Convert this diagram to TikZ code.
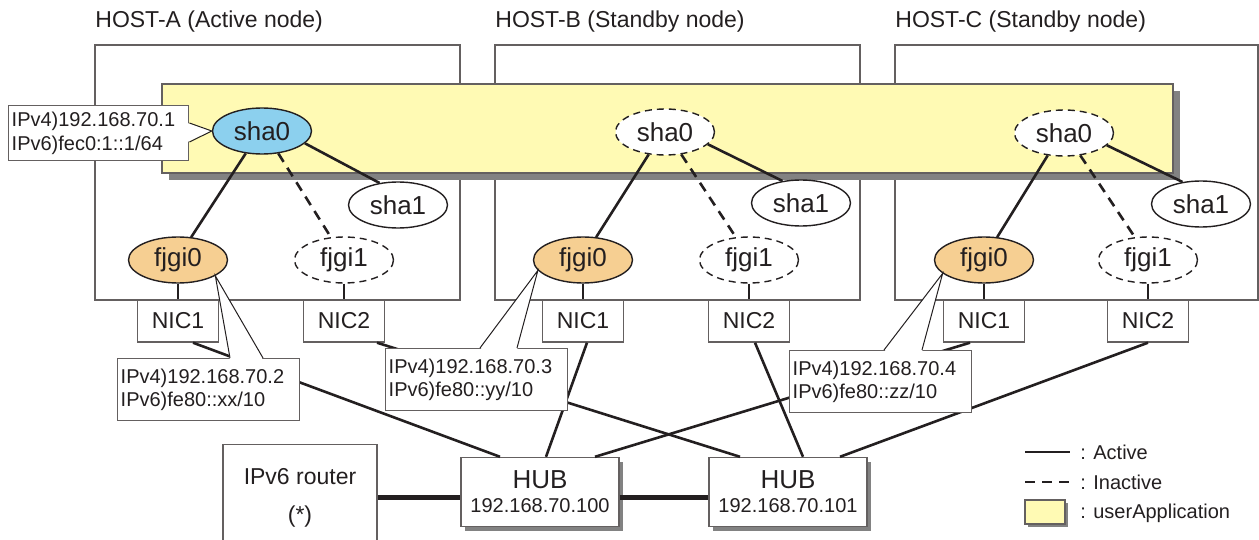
\documentclass[tikz,border=0pt]{standalone}
\usepackage{fontspec}
\setmainfont{Liberation Sans}
\usetikzlibrary{shapes.geometric,shadows}
\definecolor{ink}{RGB}{35,31,32}
\definecolor{frame}{RGB}{100,96,96}
\definecolor{shade}{RGB}{130,130,130}
\definecolor{appyellow}{RGB}{255,250,180}
\definecolor{shablue}{RGB}{140,208,238}
\definecolor{fjgiorange}{RGB}{246,207,146}
\begin{document}
\begin{tikzpicture}[x=0.5pt,y=-0.5pt,
  every node/.style={text=ink},
  hostlabel/.style={anchor=base west,inner sep=0pt,font=\fontsize{11.5}{14}\selectfont},
  hostbox/.style={draw=frame,line width=0.7pt},
  appbox/.style={draw=frame,line width=0.6pt,fill=appyellow,drop shadow={shadow xshift=3.5pt,shadow yshift=-3.5pt,fill=shade,opacity=1}},
  ifc/.style={ellipse,draw=ink,line width=0.7pt,fill=white,inner sep=0pt,minimum width=49.5pt,minimum height=23pt,font=\fontsize{13}{15}\selectfont},
  stby/.style={ifc,dash pattern=on 3.5pt off 2.5pt},
  nic/.style={draw=frame,line width=0.7pt,fill=white,minimum width=40.5pt,minimum height=21pt,inner sep=0pt,font=\fontsize{11.5}{14}\selectfont},
  ipbox/.style={draw=frame,line width=0.7pt,fill=white,anchor=north west,align=left,text width=88pt,inner xsep=1.5pt,inner ysep=0pt,minimum height=31pt,font=\fontsize{10}{11.5}\selectfont},
  pointer/.style={draw=ink,line width=0.5pt},
  hub/.style={draw=frame,line width=0.7pt,fill=white,align=center,minimum width=79pt,minimum height=34.5pt,inner sep=0pt,font=\fontsize{10}{12}\selectfont,drop shadow={shadow xshift=2pt,shadow yshift=-2pt,fill=shade,opacity=1}},
  act/.style={draw=ink,line width=1.3pt},
  inact/.style={act,dash pattern=on 5pt off 3.5pt},
  trunk/.style={draw=ink,line width=2.4pt},
  legtext/.style={anchor=west,inner sep=0pt,font=\fontsize{10}{12}\selectfont}]
\useasboundingbox (0,0) rectangle (1259,540);
\clip (0,0) rectangle (1259,540);

% hosts
\node[hostlabel] (labA) at (95,28) {HOST-A (Active node)};
\node[hostlabel] (labB) at (495,28) {HOST-B (Standby node)};
\node[hostlabel] (labC) at (895,28) {HOST-C (Standby node)};
\draw[hostbox] (95,45) rectangle (460,300);
\draw[hostbox] (495,45) rectangle (860,300);
\draw[hostbox] (895,45) rectangle (1258,300);

% userApplication
\draw[appbox] (162,84) rectangle (1173,173);

% interfaces
\node[ifc,fill=shablue] (shaA0) at (262,131) {sha0};
\node[stby] (shaB0) at (665,132) {sha0};
\node[stby] (shaC0) at (1064,133) {sha0};
\node[ifc] (shaA1) at (398,205) {sha1};
\node[ifc] (shaB1) at (801,203) {sha1};
\node[ifc] (shaC1) at (1201,204) {sha1};
\node[ifc,fill=fjgiorange] (fjgiA0) at (178,260) {fjgi0};
\node[ifc,fill=fjgiorange] (fjgiB0) at (583,260) {fjgi0};
\node[ifc,fill=fjgiorange] (fjgiC0) at (984,260) {fjgi0};
\node[stby] (fjgiA1) at (344,260) {fjgi1};
\node[stby] (fjgiB1) at (749,260) {fjgi1};
\node[stby] (fjgiC1) at (1148,260) {fjgi1};

% NICs
\node[nic] (nicA1) at (178,321) {NIC1};
\node[nic] (nicA2) at (344,321) {NIC2};
\node[nic] (nicB1) at (583,321) {NIC1};
\node[nic] (nicB2) at (749,321) {NIC2};
\node[nic] (nicC1) at (984,321) {NIC1};
\node[nic] (nicC2) at (1148,321) {NIC2};

% hubs and router
\node[hub] (hub1) at (540,492) {{\fontsize{13}{15}\selectfont HUB}\\192.168.70.100};
\node[hub] (hub2) at (788,492) {{\fontsize{13}{15}\selectfont HUB}\\192.168.70.101};
\node[draw=frame,line width=0.7pt,anchor=north,minimum width=77pt,minimum height=53pt,align=center,font=\fontsize{11.5}{19}\selectfont] (router) at (300,444) {IPv6 router\\(*)};

% links inside the hosts
\draw[act] (shaA0.-126) -- (fjgiA0.60);
\draw[inact] (shaA0.-54) -- (fjgiA1.120);
\draw[act] (shaA0.-16) -- (shaA1.130);
\draw[act] (shaB0.-126) -- (fjgiB0.60);
\draw[inact] (shaB0.-54) -- (fjgiB1.120);
\draw[act] (shaB0.-16) -- (shaB1.130);
\draw[act] (shaC0.-126) -- (fjgiC0.60);
\draw[inact] (shaC0.-54) -- (fjgiC1.120);
\draw[act] (shaC0.-16) -- (shaC1.130);
\draw[act] (fjgiA0) -- (nicA1);
\draw[act] (fjgiA1) -- (nicA2);
\draw[act] (fjgiB0) -- (nicB1);
\draw[act] (fjgiB1) -- (nicB2);
\draw[act] (fjgiC0) -- (nicC1);
\draw[act] (fjgiC1) -- (nicC2);

% network
\draw[act] ([xshift=7.5pt]nicA1.south) -- ([xshift=-20pt]hub1.north);
\draw[act] ([xshift=2pt]nicB1.south) -- ([xshift=3pt]hub1.north);
\draw[act] ([xshift=-7pt]nicC1.south) -- ([xshift=27.5pt]hub1.north);
\draw[act] ([xshift=16.5pt]nicA2.south) -- ([xshift=-24pt]hub2.north);
\draw[act] ([xshift=3pt]nicB2.south) -- ([xshift=7.5pt]hub2.north);
\draw[act] (nicC2.south) -- ([xshift=26pt]hub2.north);
\draw[trunk] (router.east) -- (router.east -| hub1.west);
\draw[trunk] (hub1.east |- router.east) -- (router.east -| hub2.west);

% address callouts
\node[ipbox,text width=87pt,minimum height=27.5pt,font=\fontsize{10}{12}\selectfont] (ipSha) at (8,105) {IPv4)192.168.70.1\\IPv6)fec0:1::1/64};
\fill[white] (shaA0.west) -- ([yshift=-9pt,xshift=-1pt]ipSha.north east) -- ([yshift=-18.5pt,xshift=-1pt]ipSha.north east) -- cycle;
\draw[pointer] ([yshift=-9pt]ipSha.north east) -- (shaA0.west) -- ([yshift=-18.5pt]ipSha.north east);

\node[ipbox] (ipA) at (117,358) {IPv4)192.168.70.2\\IPv6)fe80::xx/10};
\fill[white] (fjgiA0.-23) -- ([xshift=56.5pt,yshift=-1pt]ipA.north west) -- ([xshift=73pt,yshift=-1pt]ipA.north west) -- cycle;
\draw[pointer] ([xshift=56.5pt]ipA.north west) -- (fjgiA0.-23) -- ([xshift=73pt]ipA.north west);

\node[ipbox] (ipB) at (385,348) {IPv4)192.168.70.3\\IPv6)fe80::yy/10};
\fill[white] (fjgiB0.-167) -- ([xshift=47.5pt,yshift=-1pt]ipB.north west) -- ([xshift=66pt,yshift=-1pt]ipB.north west) -- cycle;
\draw[pointer] ([xshift=47.5pt]ipB.north west) -- (fjgiB0.-167) -- ([xshift=66pt]ipB.north west);

\node[ipbox] (ipC) at (789,350) {IPv4)192.168.70.4\\IPv6)fe80::zz/10};
\fill[white] (fjgiC0.-162) -- ([xshift=47.5pt,yshift=-1pt]ipC.north west) -- ([xshift=66.5pt,yshift=-1pt]ipC.north west) -- cycle;
\draw[pointer] ([xshift=47.5pt]ipC.north west) -- (fjgiC0.-162) -- ([xshift=66.5pt]ipC.north west);

% legend
\node[legtext] (legAct) at (1080,452) {: Active};
\node[legtext] (legInact) at (1080,482) {: Inactive};
\node[legtext] (legApp) at (1080,513) {: userApplication};
\coordinate (keyAct) at (1025,452);
\coordinate (keyInact) at (1025,482);
\draw[act] (keyAct) -- ([xshift=-5pt]legAct.west);
\draw[inact] (keyInact) -- ([xshift=-5pt]legInact.west);
\node[draw=frame,line width=0.6pt,fill=appyellow,minimum width=20pt,minimum height=12pt,inner sep=0pt,drop shadow={shadow xshift=1.5pt,shadow yshift=-1.5pt,fill=shade,opacity=1}] (keyApp) at (1045,512) {};
\end{tikzpicture}
\end{document}
